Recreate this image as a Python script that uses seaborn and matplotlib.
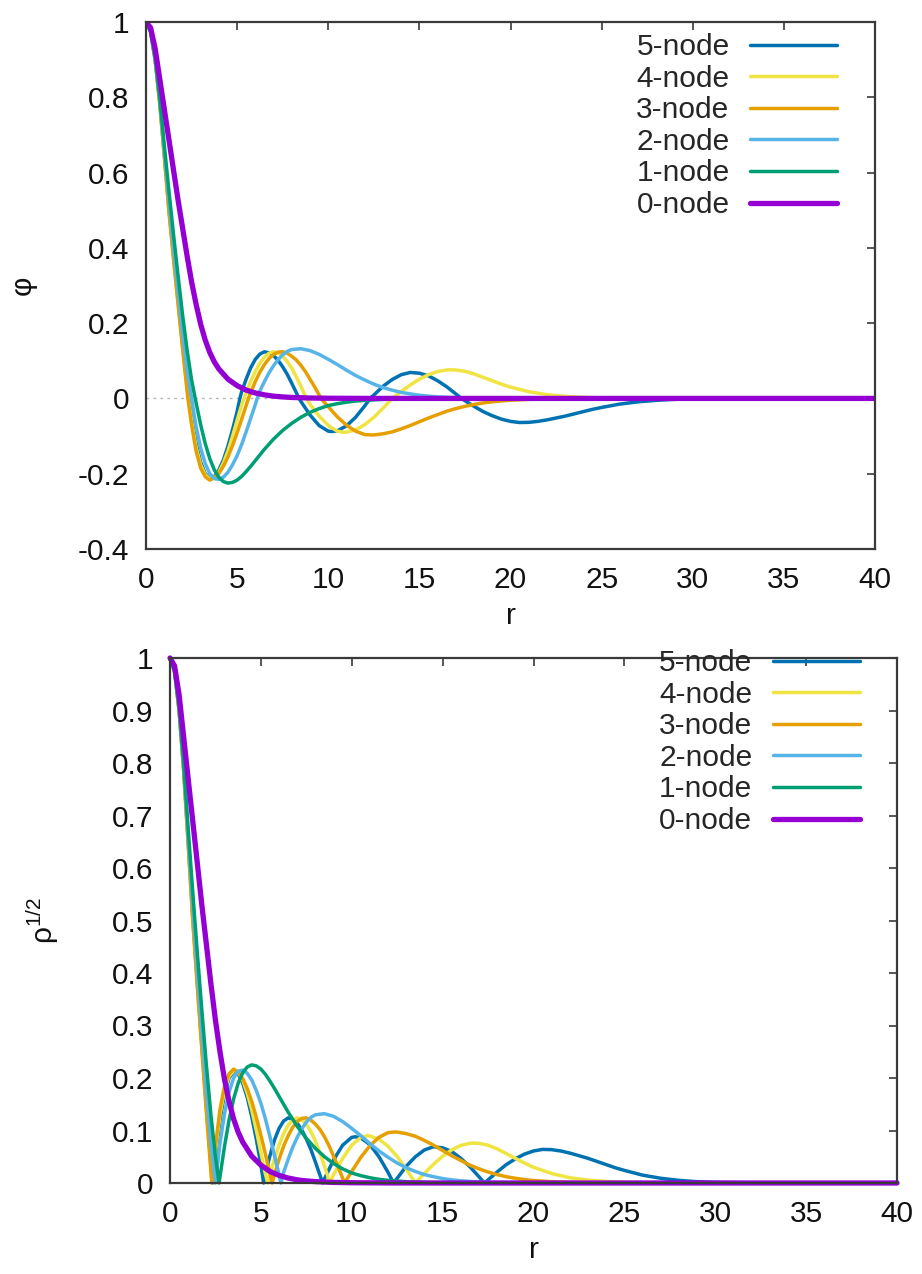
import numpy as np
import pandas as pd
import matplotlib
matplotlib.use("Agg")
import matplotlib.pyplot as plt
from matplotlib.ticker import FuncFormatter
import seaborn as sns

# ---------------- data ----------------
LABELS = ["5-node", "4-node", "3-node", "2-node", "1-node", "0-node"]
COLORS = ["#0072B2", "#F0E442", "#E69F00", "#56B4E9", "#009E73", "#9400D3"]

R5 = [0, 0.25, 0.5, 0.75, 1, 1.25, 1.5, 1.75, 2, 2.25,
      2.36, 2.5, 2.75, 3, 3.25, 3.5, 3.6, 3.75, 4, 4.25,
      4.5, 4.75, 5, 5.15, 5.25, 5.5, 5.75, 6, 6.25, 6.5,
      6.75, 7, 7.25, 7.5, 7.75, 8, 8.25, 8.4, 8.5, 9,
      9.5, 10, 10.2, 10.5, 11, 11.5, 12, 12.3, 12.5, 13,
      13.5, 14, 14.5, 15, 15.5, 16, 16.5, 17, 17.3, 17.5,
      18, 18.5, 19, 19.5, 20, 20.5, 21, 21.5, 22, 22.5,
      23, 23.5, 24, 24.5, 25, 26, 27, 28, 29, 30,
      32, 35, 40]
PHI5 = [1, 0.975, 0.9, 0.79, 0.65, 0.51, 0.385, 0.265, 0.148, 0.038,
        0, -0.05, -0.12, -0.17, -0.2, -0.212, -0.213, -0.208, -0.19, -0.163,
        -0.126, -0.083, -0.035, 0, 0.018, 0.052, 0.082, 0.104, 0.118, 0.124,
        0.121, 0.114, 0.101, 0.084, 0.064, 0.04, 0.015, 0, -0.008, -0.044,
        -0.072, -0.087, -0.088, -0.086, -0.073, -0.05, -0.02, 0, 0.009, 0.032,
        0.05, 0.063, 0.069, 0.067, 0.06, 0.047, 0.031, 0.012, 0, -0.006,
        -0.021, -0.035, -0.046, -0.055, -0.061, -0.064, -0.0635, -0.061, -0.057, -0.052,
        -0.047, -0.041, -0.035, -0.029, -0.024, -0.015, -0.009, -0.005, -0.0025, -0.0012,
        -0.0003, 0, 0]

R4 = [0, 0.25, 0.5, 0.75, 1, 1.25, 1.5, 1.75, 2, 2.25,
      2.33, 2.5, 2.75, 3, 3.25, 3.5, 3.6, 3.75, 4, 4.25,
      4.5, 4.75, 5, 5.25, 5.38, 5.5, 5.75, 6, 6.25, 6.5,
      6.75, 7, 7.25, 7.5, 7.75, 8, 8.25, 8.5, 8.8, 9,
      9.5, 10, 10.5, 10.85, 11, 11.5, 12, 12.5, 13, 13.5,
      14, 14.5, 15, 15.5, 16, 16.5, 16.7, 17, 17.5, 18,
      18.5, 19, 19.5, 20, 21, 22, 23, 24, 25, 26,
      28, 30, 35, 40]
PHI4 = [1, 0.975, 0.9, 0.787, 0.648, 0.505, 0.38, 0.26, 0.142, 0.03,
        0, -0.06, -0.13, -0.177, -0.203, -0.214, -0.215, -0.211, -0.196, -0.171,
        -0.139, -0.1, -0.058, -0.017, 0, 0.016, 0.046, 0.072, 0.094, 0.11,
        0.12, 0.124, 0.121, 0.112, 0.098, 0.08, 0.057, 0.032, 0, -0.016,
        -0.047, -0.072, -0.087, -0.09, -0.0896, -0.0834, -0.0698, -0.0503, -0.0264, 0,
        0.0185, 0.0358, 0.051, 0.0632, 0.0715, 0.0756, 0.076, 0.0755, 0.072, 0.065,
        0.056, 0.047, 0.038, 0.03, 0.018, 0.01, 0.0055, 0.003, 0.0015, 0.0007,
        0.0002, 0, 0, 0]

R3 = [0, 0.25, 0.5, 0.75, 1, 1.25, 1.5, 1.75, 2, 2.25,
      2.3, 2.5, 2.75, 3, 3.25, 3.5, 3.75, 4, 4.25, 4.5,
      4.75, 5, 5.25, 5.5, 5.62, 5.75, 6, 6.25, 6.5, 6.75,
      7, 7.25, 7.5, 7.75, 8, 8.25, 8.5, 8.75, 9, 9.25,
      9.5, 9.6, 10, 10.5, 11, 11.5, 12, 12.3, 12.5, 13,
      13.5, 14, 14.5, 15, 15.5, 16, 16.5, 17, 17.5, 18,
      18.5, 19, 19.5, 20, 21, 22, 23, 24, 25, 26,
      30, 35, 40]
PHI3 = [1, 0.975, 0.9, 0.785, 0.645, 0.5, 0.375, 0.255, 0.135, 0.022,
        0, -0.07, -0.14, -0.185, -0.208, -0.217, -0.211, -0.199, -0.18, -0.155,
        -0.125, -0.091, -0.055, -0.018, 0, 0.016, 0.045, 0.07, 0.09, 0.106,
        0.117, 0.123, 0.124, 0.12, 0.112, 0.102, 0.088, 0.071, 0.051, 0.031,
        0.009, 0, -0.022, -0.049, -0.071, -0.087, -0.096, -0.097, -0.097, -0.094,
        -0.089, -0.081, -0.072, -0.062, -0.052, -0.043, -0.034, -0.027, -0.021, -0.016,
        -0.012, -0.009, -0.0065, -0.0047, -0.0025, -0.0013, -0.0006, -0.0003, -0.0001, 0,
        0, 0, 0]

R2 = [0, 0.25, 0.5, 0.75, 1, 1.25, 1.5, 1.75, 2, 2.25,
      2.5, 2.75, 3, 3.25, 3.5, 3.75, 4, 4.25, 4.5, 4.75,
      5, 5.25, 5.5, 5.75, 6, 6.1, 6.25, 6.5, 6.75, 7,
      7.25, 7.5, 7.75, 8, 8.5, 9, 9.5, 10, 10.5, 11,
      11.5, 12, 12.5, 13, 13.5, 14, 14.5, 15, 15.5, 16,
      17, 18, 19, 20, 22, 30, 40]
PHI2 = [1, 0.975, 0.905, 0.795, 0.66, 0.53, 0.405, 0.29, 0.175, 0.075,
        0, -0.075, -0.132, -0.173, -0.2, -0.213, -0.215, -0.209, -0.196, -0.176,
        -0.152, -0.122, -0.088, -0.052, -0.016, 0, 0.02, 0.045, 0.068, 0.087,
        0.103, 0.116, 0.125, 0.13, 0.132, 0.127, 0.117, 0.104, 0.09, 0.075,
        0.061, 0.049, 0.038, 0.029, 0.022, 0.016, 0.012, 0.0085, 0.006, 0.0042,
        0.002, 0.001, 0.0005, 0.0002, 0, 0, 0]

R1 = [0, 0.25, 0.5, 0.75, 1, 1.25, 1.5, 1.75, 2, 2.25,
      2.5, 2.7, 2.75, 3, 3.25, 3.5, 3.75, 4, 4.25, 4.5,
      4.75, 5, 5.25, 5.5, 5.75, 6, 6.5, 7, 7.5, 8,
      8.5, 9, 9.5, 10, 10.5, 11, 11.5, 12, 13, 14,
      15, 16, 18, 30, 40]
PHI1 = [1, 0.975, 0.905, 0.8, 0.675, 0.555, 0.44, 0.33, 0.225, 0.13,
        0.05, 0, -0.012, -0.07, -0.12, -0.16, -0.19, -0.21, -0.221, -0.225,
        -0.223, -0.217, -0.207, -0.194, -0.18, -0.165, -0.135, -0.108, -0.085, -0.066,
        -0.05, -0.037, -0.027, -0.019, -0.014, -0.01, -0.007, -0.005, -0.0025, -0.0012,
        -0.0006, -0.0003, 0, 0, 0]

R0 = [0, 0.25, 0.5, 0.75, 1, 1.25, 1.5, 1.75, 2, 2.25,
      2.5, 2.75, 3, 3.25, 3.5, 3.75, 4, 4.5, 5, 5.5,
      6, 6.5, 7, 7.5, 8, 9, 10, 12, 15, 20,
      30, 40]
PHI0 = [1, 0.985, 0.93, 0.85, 0.77, 0.69, 0.61, 0.53, 0.455, 0.38,
        0.31, 0.25, 0.197, 0.155, 0.122, 0.097, 0.078, 0.051, 0.034, 0.022,
        0.0145, 0.0095, 0.006, 0.004, 0.0026, 0.0011, 0.0005, 0.0001, 0, 0,
        0, 0]

X_TICKS = [0, 5, 10, 15, 20, 25, 30, 35, 40]
Y_TICKS_TOP = [-0.4, -0.2, 0, 0.2, 0.4, 0.6, 0.8, 1]
Y_TICKS_BOT = [0, 0.1, 0.2, 0.3, 0.4, 0.5, 0.6, 0.7, 0.8, 0.9, 1]

frames = []
for lab, rr, pp in zip(LABELS, [R5, R4, R3, R2, R1, R0],
                       [PHI5, PHI4, PHI3, PHI2, PHI1, PHI0]):
    frames.append(pd.DataFrame({"r": rr, "phi": pp, "node": lab}))
df = pd.concat(frames, ignore_index=True)
df["rho_half"] = df["phi"].abs()

# ---------------- style ----------------
sns.set_theme(style="white")
plt.rcParams["font.family"] = ["Liberation Sans", "DejaVu Sans"]
plt.rcParams["mathtext.default"] = "regular"
plt.rcParams["axes.unicode_minus"] = False

FS = 21.5
EDGE = "#3a3a3a"

fig = plt.figure(figsize=(9.22, 12.74), dpi=100)
ax1 = fig.add_axes([146 / 922, 1 - 549 / 1274, 729 / 922, 527 / 1274])
ax2 = fig.add_axes([170 / 922, 1 - 1183 / 1274, 727 / 922, 525 / 1274])

fmt = FuncFormatter(lambda v, p: "%g" % round(v, 6))


def draw(ax, ycol, clip):
    for lab, col in zip(LABELS, COLORS):
        sub = df[df["node"] == lab]
        lw = 3.8 if lab == "0-node" else 2.5
        sns.lineplot(data=sub, x="r", y=ycol, ax=ax, color=col, linewidth=lw,
                     label=lab, estimator=None, sort=False, clip_on=clip,
                     zorder=3)
    ax.set_xlim(0, 40)
    ax.set_xticks(X_TICKS)
    ax.xaxis.set_major_formatter(fmt)
    ax.yaxis.set_major_formatter(fmt)
    ax.tick_params(direction="in", top=True, right=True, length=6, width=1.2,
                   colors=EDGE, labelcolor="#111111", labelsize=FS, pad=12)
    for s in ax.spines.values():
        s.set_color(EDGE)
        s.set_linewidth(1.6)
        s.set_zorder(4)
    ax.set_xlabel("r", fontsize=FS, color="#111111", labelpad=6)
    ax.grid(False)


draw(ax1, "phi", True)
ax1.set_ylim(-0.4, 1)
ax1.set_yticks(Y_TICKS_TOP)
ax1.axhline(0, color="#b8b8b8", lw=1.0, ls=(0, (2, 3)), zorder=1)
ax1.set_ylabel("φ", fontsize=FS, color="#111111")
ax1.yaxis.set_label_coords(-0.150, 0.5)
ax1.legend(loc="upper right", bbox_to_anchor=(0.948, 0.979), frameon=False,
           markerfirst=False, handlelength=2.9, handletextpad=0.7,
           labelspacing=0.12, borderpad=0, borderaxespad=0, fontsize=FS)

draw(ax2, "rho_half", False)
ax2.set_ylim(0, 1)
ax2.set_yticks(Y_TICKS_BOT)
ax2.set_ylabel(r"$ρ^{1/2}$", fontsize=FS, color="#111111")
ax2.yaxis.set_label_coords(-0.150, 0.5)
ax2.legend(loc="upper right", bbox_to_anchor=(0.949, 1.017), frameon=False,
           markerfirst=False, handlelength=2.9, handletextpad=0.7,
           labelspacing=0.12, borderpad=0, borderaxespad=0, fontsize=FS)

fig.savefig("out.png", dpi=100, facecolor="white")
